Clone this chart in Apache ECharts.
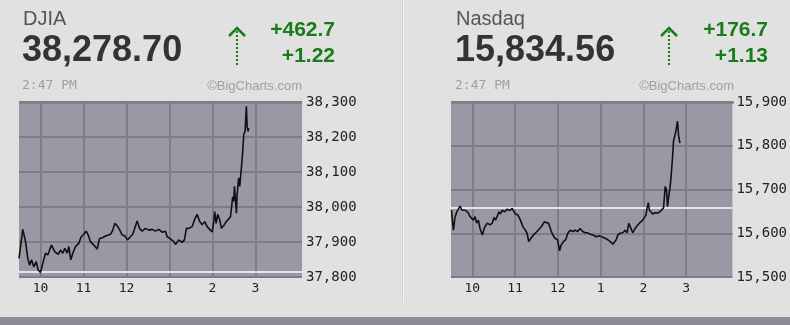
<!DOCTYPE html>
<html>
<head>
<meta charset="utf-8">
<script src="https://cdn.jsdelivr.net/npm/echarts@6/dist/echarts.min.js"></script>
<style>
html,body{margin:0;padding:0;background:#e1e1e1;}
#chart{width:790px;height:325px;}
</style>
</head>
<body>
<div id="chart"></div>
<script>
// x values: minutes since 9:30 AM
const hourTicks = [30, 90, 150, 210, 270, 330];
const hourLabels = ['10', '11', '12', '1', '2', '3'];

const djiaTimes = [0,5.3,9.1,12.3,14.7,17.4,20.7,24,26.8,30,33.2,37,40.2,45.3,50,54.7,57.9,61.1,63.9,67.3,69.5,72.3,75.1,78.8,83.4,86.8,90.4,93.8,96.6,99.8,104.4,109.1,112.3,116.9,121.7,127.7,130.9,133.7,137,140.2,144,147.6,151.4,155.6,158.8,161.6,164.9,168.1,171.9,176.5,181.1,185.9,190.5,195.1,199.8,204.4,206.8,211.4,216,218.4,223,227.7,230.9,233.7,236.9,241.7,244.9,248.6,251.9,255.6,259.3,262.6,266.2,269.6,271.8,273.2,275.2,277.4,280.2,282.5,285.8,289.1,292.7,295.1,296.5,298.3,299.7,300.7,303.5,304.4,306.6,308.1,310,312.3,313.7,315.6,316.5,317.4,318.4,319.8,320.6];
const djiaValues = [37853,37936,37901,37853,37834,37849,37829,37844,37820,37813,37839,37868,37863,37891,37872,37865,37877,37868,37882,37868,37887,37849,37868,37887,37896,37915,37922,37931,37920,37901,37891,37880,37909,37913,37918,37922,37934,37953,37947,37936,37920,37918,37906,37915,37922,37939,37960,37939,37931,37939,37934,37936,37931,37936,37928,37931,37915,37909,37901,37893,37906,37899,37906,37939,37939,37944,37963,37979,37960,37949,37958,37944,37936,37929,37958,37987,37953,37979,37963,37939,37947,37958,37966,37972,37996,38029,38016,38059,37982,38035,38083,38059,38102,38159,38207,38216,38254,38288,38230,38216,38226];

const nasdaqTimes = [0.7,2.1,3.5,5.3,8.1,10.5,12.8,15.1,17.4,20.7,24,26.8,29,31.4,33.8,36,38.4,40.7,44,47.2,50.9,54.7,57.9,60.3,62.5,64.9,67.3,69.5,71.9,75.1,78.8,82.6,85.8,88.2,90.4,93.8,97.4,101.2,104.4,106.7,109.1,111.3,113.7,116.9,120.7,124.5,127.7,130.9,133.7,137,140.2,143,146.2,149.6,152.4,154.6,158,161.2,164,167.2,170.9,174.1,177.9,181.1,184.9,188.1,191.4,195.1,199.2,204,208.6,213.2,217,220.2,223.5,227.2,229.5,231.9,234.1,237.5,241.1,244.5,247.2,249.5,251.8,255.1,258.4,261.2,264.4,266.8,269,271.4,273.8,275.1,277,278.4,280.7,283,286.3,289.9,293.3,296.1,298.3,300.7,302.5,303.9,305.3,307.3,308.7,310.9,312.3,314.3,315.6,317.9,319.3,321.3];
const nasdaqValues = [15653,15626,15607,15634,15649,15646,15662,15653,15657,15652,15647,15638,15642,15630,15638,15623,15630,15611,15596,15614,15623,15619,15623,15636,15630,15639,15649,15644,15653,15649,15655,15652,15657,15657,15644,15642,15630,15614,15607,15600,15581,15585,15592,15598,15604,15611,15617,15626,15630,15623,15607,15596,15588,15585,15560,15573,15581,15586,15600,15607,15604,15607,15604,15611,15604,15601,15601,15598,15596,15592,15594,15591,15588,15585,15581,15575,15571,15585,15596,15600,15601,15607,15601,15623,15614,15601,15611,15617,15623,15619,15630,15626,15642,15657,15670,15653,15657,15644,15647,15646,15649,15649,15658,15707,15699,15661,15681,15703,15726,15772,15810,15814,15833,15856,15825,15806];

const djiaAxis = {min: 37800, max: 38300, interval: 100};
const nasdaqAxis = {min: 15500, max: 15900, interval: 100};
const djiaPrevClose = 37816.0;
const nasdaqPrevClose = 15657.86;

const djiaHeader = {name: 'DJIA', last: '38,278.70', chg: '+462.7', pct: '+1.22', time: '2:47 PM'};
const nasdaqHeader = {name: 'Nasdaq', last: '15,834.56', chg: '+176.7', pct: '+1.13', time: '2:47 PM'};
const credit = '\u00A9BigCharts.com';

const GRID_C = '#7e7c89';
const PLOT_BG = '#9a98a5';
const GREEN = '#1a7b1a';
const MONO = '"DejaVu Sans Mono", monospace';
const SANS = '"Liberation Sans", Arial, sans-serif';

function fmt(v){ return Math.round(v).toLocaleString('en-US'); }

const grids = [
  {left: 19, top: 102, width: 283, height: 175},
  {left: 451, top: 102, width: 283, height: 175}
];

function xAxisFor(i){
  return {
    gridIndex: i, type: 'value', min: 0, max: 395,
    splitLine: {show: false}, axisLine: {show: false}, axisTick: {show: false},
    axisLabel: {
      customValues: hourTicks,
      formatter: v => hourLabels[hourTicks.indexOf(v)] || '',
      fontFamily: MONO, fontSize: 13, color: '#222', margin: 5
    }
  };
}
function yAxisFor(i, ax){
  return {
    gridIndex: i, type: 'value', position: 'right',
    min: ax.min, max: ax.max, interval: ax.interval,
    splitLine: {show: true, lineStyle: {color: GRID_C, width: 2}},
    axisLine: {show: false}, axisTick: {show: false},
    axisLabel: {formatter: fmt, fontFamily: MONO, fontSize: 14, color: '#222', margin: 4}
  };
}
function gridSeries(i, prev){
  return {
    type: 'line', xAxisIndex: i, yAxisIndex: i, data: [], silent: true, z: 1,
    markLine: {
      silent: true, symbol: ['none', 'none'], label: {show: false}, animation: false, z: 1,
      data: hourTicks.map(t => ({xAxis: t, lineStyle: {color: GRID_C, width: 2, type: 'solid'}}))
        .concat([{yAxis: prev, lineStyle: {color: '#e4e4e8', width: 2, type: 'solid'}}])
    }
  };
}
function priceSeries(i, times, vals){
  return {
    type: 'line', xAxisIndex: i, yAxisIndex: i, z: 5,
    data: times.map((t, k) => [t, vals[k]]),
    showSymbol: false, symbol: 'none', animation: false,
    lineStyle: {color: '#111', width: 1.6}
  };
}

function header(h, x0, arrowX, chgRight, creditRight){
  return [
    {type: 'text', style: {text: h.name, x: x0, y: 19, font: '20px ' + SANS, fill: '#555', verticalAlign: 'middle'}},
    {type: 'text', style: {text: h.last, x: x0 - 1, y: 51, font: 'bold 36px ' + SANS, fill: '#333', verticalAlign: 'middle'}},
    {type: 'text', style: {text: h.chg, x: chgRight, y: 30, font: 'bold 21px ' + SANS, fill: GREEN, align: 'right', verticalAlign: 'middle'}},
    {type: 'text', style: {text: h.pct, x: chgRight, y: 56, font: 'bold 21px ' + SANS, fill: GREEN, align: 'right', verticalAlign: 'middle'}},
    {type: 'polyline', shape: {points: [[arrowX - 8, 36], [arrowX, 28], [arrowX + 8, 36]]}, style: {stroke: GREEN, lineWidth: 2.5, fill: null}},
    {type: 'line', shape: {x1: arrowX, y1: 31, x2: arrowX, y2: 65}, style: {stroke: GREEN, lineWidth: 2, lineDash: [2, 2]}},
    {type: 'text', style: {text: h.time, x: x0 - 1, y: 86, font: '13px ' + MONO, fill: '#a0a0a0', verticalAlign: 'middle'}},
    {type: 'text', style: {text: credit, x: creditRight, y: 86, font: '13px ' + SANS, fill: '#a0a0a0', align: 'right', verticalAlign: 'middle'}}
  ];
}

const chart = echarts.init(document.getElementById('chart'), null, {renderer: 'canvas'});
chart.setOption({
  backgroundColor: '#e1e1e1',
  animation: false,
  grid: grids.map(g => Object.assign({show: true, backgroundColor: PLOT_BG, borderWidth: 0}, g)),
  xAxis: [xAxisFor(0), xAxisFor(1)],
  yAxis: [yAxisFor(0, djiaAxis), yAxisFor(1, nasdaqAxis)],
  series: [
    gridSeries(0, djiaPrevClose),
    gridSeries(1, nasdaqPrevClose),
    priceSeries(0, djiaTimes, djiaValues),
    priceSeries(1, nasdaqTimes, nasdaqValues)
  ],
  graphic: [
    {type: 'rect', shape: {x: 0, y: 317, width: 790, height: 8}, style: {fill: '#8c8b97'}, z: 0},
    {type: 'line', shape: {x1: 403.5, y1: 0, x2: 403.5, y2: 302}, style: {stroke: '#f6f6f6', lineWidth: 1}},
    {type: 'line', shape: {x1: 402.5, y1: 0, x2: 402.5, y2: 302}, style: {stroke: '#cfcfcf', lineWidth: 1}},
    {type: 'line', shape: {x1: 19, y1: 102.5, x2: 302, y2: 102.5}, style: {stroke: '#6f6d79', lineWidth: 2}},
    {type: 'line', shape: {x1: 451, y1: 102.5, x2: 734, y2: 102.5}, style: {stroke: '#6f6d79', lineWidth: 2}}
  ].concat(header(djiaHeader, 23, 237, 335, 302), header(nasdaqHeader, 456, 669, 768, 734))
});
</script>
</body>
</html>
